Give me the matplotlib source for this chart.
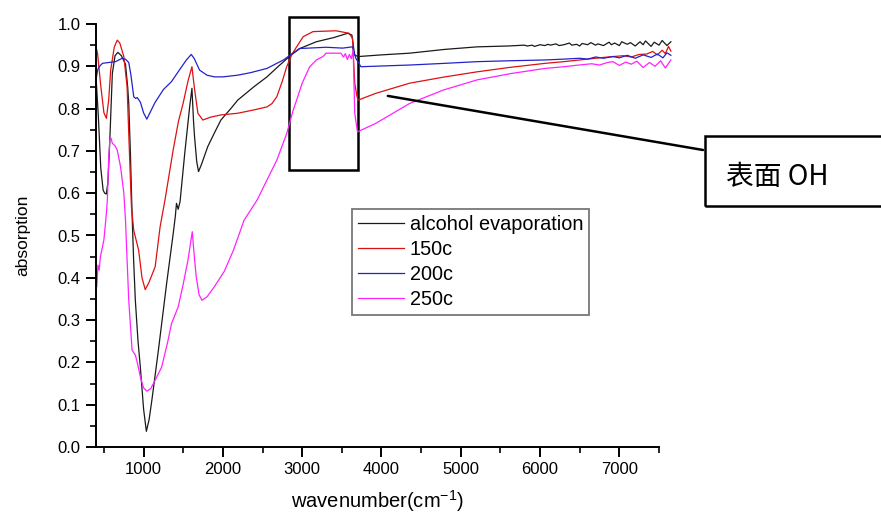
import matplotlib
matplotlib.use("Agg")
import matplotlib.pyplot as plt
from matplotlib.patches import Rectangle

plt.rcParams['font.family'] = ['Liberation Sans', 'DejaVu Sans']

# FTIR spectra, wavenumber (cm-1) vs absorption
x_alc = [400, 430, 460, 490, 510, 530, 550, 573, 606, 640, 676, 720, 772, 800, 813, 834,
         855, 875, 896, 930, 959, 1000, 1035, 1070, 1104, 1187, 1291, 1374, 1400, 1415,
         1436, 1460, 1519, 1581, 1610, 1630, 1643, 1670, 1693, 1730, 1809, 1900, 1975,
         2100, 2187, 2394, 2556, 2700, 2850, 2970, 3178, 3400, 3573, 3627, 3645, 3660,
         3705, 4000, 4354, 4800, 5209, 5600, 5800, 5840, 5900, 5930, 6000, 6060, 6100,
         6130, 6200, 6240, 6300, 6370, 6400, 6460, 6500, 6530, 6600, 6640, 6700, 6730,
         6800, 6870, 6900, 6940, 7000, 7030, 7100, 7140, 7200, 7260, 7300, 7330, 7400,
         7440, 7500, 7540, 7600, 7650]
y_alc = [0.876, 0.78, 0.66, 0.607, 0.600, 0.598, 0.625, 0.72, 0.883, 0.925, 0.933, 0.925,
         0.905, 0.85, 0.812, 0.694, 0.55, 0.44, 0.347, 0.25, 0.189, 0.09, 0.037, 0.065,
         0.11, 0.229, 0.387, 0.505, 0.545, 0.576, 0.562, 0.58, 0.694, 0.804, 0.848, 0.77,
         0.733, 0.675, 0.651, 0.668, 0.71, 0.745, 0.773, 0.80, 0.82, 0.852, 0.875, 0.900,
         0.925, 0.942, 0.958, 0.968, 0.978, 0.974, 0.95, 0.927, 0.923, 0.927, 0.931, 0.940,
         0.946, 0.948, 0.950, 0.948, 0.950, 0.947, 0.951, 0.949, 0.952, 0.950, 0.953, 0.949,
         0.951, 0.955, 0.950, 0.952, 0.948, 0.954, 0.951, 0.956, 0.950, 0.953, 0.949, 0.957,
         0.951, 0.955, 0.949, 0.958, 0.952, 0.956, 0.948, 0.958, 0.951, 0.960, 0.947, 0.957,
         0.950, 0.961, 0.949, 0.958]

x_150 = [400, 420, 461, 500, 531, 560, 585, 630, 668, 700, 751, 792, 822, 847, 876, 938,
         980, 1021, 1070, 1146, 1208, 1270, 1373, 1440, 1498, 1560, 1610, 1640, 1685, 1747,
         1850, 1975, 2187, 2394, 2556, 2620, 2680, 2750, 2805, 2870, 2930, 3013, 3137,
         3427, 3593, 3635, 3663, 3690, 3705, 3927, 4354, 4800, 5209, 5600, 6064, 6300,
         6500, 6650, 6800, 6919, 7050, 7150, 7250, 7346, 7420, 7480, 7540, 7580, 7620, 7650]
y_150 = [0.946, 0.93, 0.852, 0.79, 0.777, 0.82, 0.891, 0.945, 0.962, 0.955, 0.923, 0.852,
         0.694, 0.568, 0.512, 0.465, 0.40, 0.372, 0.39, 0.426, 0.52, 0.584, 0.702, 0.77,
         0.812, 0.865, 0.899, 0.85, 0.789, 0.773, 0.78, 0.785, 0.789, 0.797, 0.804, 0.812,
         0.828, 0.865, 0.899, 0.928, 0.946, 0.970, 0.982, 0.984, 0.978, 0.966, 0.86, 0.83,
         0.820, 0.836, 0.86, 0.875, 0.887, 0.897, 0.907, 0.911, 0.915, 0.918, 0.921, 0.923,
         0.925, 0.922, 0.928, 0.929, 0.935, 0.927, 0.938, 0.930, 0.947, 0.936]

x_200 = [400, 420, 440, 481, 560, 647, 730, 770, 813, 840, 876, 900, 920, 960, 1000, 1041,
         1080, 1146, 1250, 1353, 1436, 1540, 1601, 1640, 1706, 1800, 1893, 2000, 2187,
         2350, 2556, 2680, 2764, 2860, 2966, 3302, 3510, 3635, 3660, 3677, 3740, 4354,
         4800, 5209, 5600, 6064, 6300, 6500, 6600, 6700, 6800, 6919, 7000, 7100, 7200,
         7300, 7400, 7480, 7550, 7600, 7650]
y_200 = [0.868, 0.891, 0.899, 0.907, 0.909, 0.911, 0.919, 0.917, 0.909, 0.88, 0.828, 0.824,
         0.826, 0.815, 0.79, 0.775, 0.79, 0.815, 0.845, 0.864, 0.887, 0.915, 0.928, 0.918,
         0.891, 0.879, 0.875, 0.875, 0.879, 0.885, 0.895, 0.907, 0.915, 0.928, 0.942,
         0.945, 0.943, 0.946, 0.93, 0.919, 0.899, 0.903, 0.907, 0.911, 0.913, 0.915, 0.917,
         0.919, 0.917, 0.922, 0.919, 0.923, 0.920, 0.926, 0.919, 0.927, 0.921, 0.929,
         0.920, 0.932, 0.926]

x_250 = [400, 410, 425, 440, 455, 500, 530, 543, 560, 575, 590, 606, 640, 668, 710, 751,
         772, 792, 813, 855, 897, 920, 960, 1000, 1041, 1090, 1146, 1228, 1300, 1353, 1436,
         1500, 1560, 1614, 1640, 1664, 1700, 1735, 1800, 1893, 2017, 2133, 2267, 2432,
         2556, 2680, 2805, 2888, 2930, 3000, 3095, 3180, 3262, 3302, 3489, 3520, 3545,
         3570, 3595, 3620, 3643, 3663, 3697, 3927, 4354, 4782, 5209, 5637, 6064, 6300,
         6491, 6650, 6750, 6850, 6919, 7000, 7080, 7150, 7220, 7300, 7380, 7450, 7520,
         7580, 7650]
y_250 = [0.426, 0.379, 0.43, 0.418, 0.449, 0.49, 0.55, 0.584, 0.68, 0.728, 0.73, 0.718,
         0.712, 0.702, 0.662, 0.60, 0.536, 0.442, 0.347, 0.229, 0.217, 0.20, 0.165, 0.14,
         0.132, 0.138, 0.158, 0.189, 0.245, 0.292, 0.331, 0.385, 0.442, 0.509, 0.45, 0.402,
         0.36, 0.347, 0.355, 0.379, 0.415, 0.465, 0.536, 0.584, 0.631, 0.678, 0.741, 0.797,
         0.820, 0.86, 0.899, 0.915, 0.923, 0.931, 0.931, 0.922, 0.930, 0.916, 0.928, 0.918,
         0.938, 0.789, 0.745, 0.765, 0.812, 0.844, 0.868, 0.883, 0.895, 0.899, 0.903, 0.906,
         0.903, 0.909, 0.911, 0.902, 0.910, 0.905, 0.912, 0.897, 0.909, 0.900, 0.913, 0.896,
         0.915]

series = [
    (x_alc, y_alc, '#1a1a1a', 'alcohol evaporation'),
    (x_150, y_150, '#dd1111', '150c'),
    (x_200, y_200, '#2222cc', '200c'),
    (x_250, y_250, '#ff22ff', '250c'),
]

fig = plt.figure(figsize=(8.81, 5.18), dpi=100)
ax = fig.add_axes([96 / 881, 71 / 518, 563 / 881, 423 / 518])

for xs, ys, c, lab in series:
    ax.plot(xs, ys, color=c, lw=0.9, label=lab, clip_on=False)

ax.set_xlim(400, 7500)
ax.set_ylim(0.0, 1.0)
ax.set_xticks([1000, 2000, 3000, 4000, 5000, 6000, 7000])
ax.set_xticks([500, 1500, 2500, 3500, 4500, 5500, 6500, 7500], minor=True)
ax.set_yticks([i / 10 for i in range(11)])
ax.set_yticks([i / 20 for i in range(1, 20, 2)], minor=True)
ax.yaxis.set_major_formatter(plt.FuncFormatter(lambda v, p: f"{v:.1f}"))

for side in ['top', 'right']:
    ax.spines[side].set_visible(False)
for side in ['left', 'bottom']:
    ax.spines[side].set_linewidth(1.4)
ax.tick_params(which='major', direction='out', length=7, width=1.4, labelsize=12, pad=4)
ax.tick_params(which='minor', direction='out', length=4, width=1.2)

ax.set_xlabel('wavenumber(cm$^{\\mathregular{-1}}$)', fontsize=14.5, labelpad=8)
ax.set_ylabel('absorption', fontsize=12.5, labelpad=20)

leg = ax.legend(loc='upper left', bbox_to_anchor=(352 / 881, 1 - 209 / 518),
                bbox_transform=fig.transFigure, fontsize=14.3, frameon=True, fancybox=False,
                borderaxespad=0, borderpad=0.3, labelspacing=0.3, handlelength=2.3,
                handletextpad=0.3)
leg.get_frame().set_edgecolor('#555555')
leg.get_frame().set_linewidth(1.3)

# box around the OH band
ax.add_patch(Rectangle((2830, 0.654), 880, 0.362, fill=False, lw=1.8, ec='black',
                       clip_on=False))

# callout
ax.annotate('', xy=(4080, 0.830), xycoords='data',
            xytext=(703 / 881, 1 - 150 / 518), textcoords='figure fraction',
            arrowprops=dict(arrowstyle='-', lw=1.8, color='black', shrinkA=0, shrinkB=0))
fig.add_artist(Rectangle((705 / 881, 1 - 206 / 518), 200 / 881, 70 / 518, fill=False,
                         lw=1.8, ec='black', transform=fig.transFigure, clip_on=False))
fig.text(726 / 881, 1 - 177 / 518, '表面 OH', fontsize=20, va='center', ha='left',
         family=['Noto Sans CJK SC', 'Liberation Sans'])

fig.savefig('out.png', dpi=100)
